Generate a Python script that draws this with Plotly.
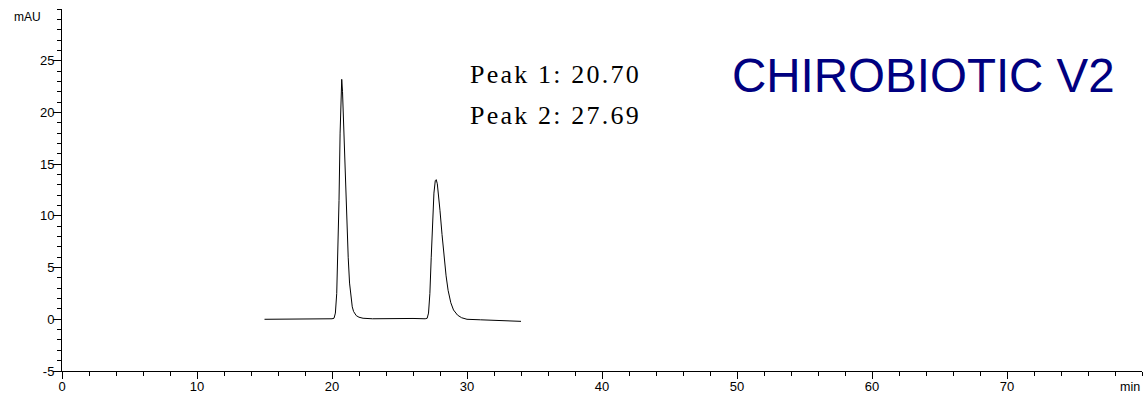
import plotly.graph_objects as go

# Chromatogram trace (time in min, signal in mAU)
time_min = [15.0, 16.0, 17.0, 18.0, 19.0, 20.0, 20.15, 20.25, 20.35, 20.45, 20.52, 20.6, 20.68, 20.72,
            20.78, 20.85, 20.9, 21.0, 21.05, 21.1, 21.2, 21.3, 21.4, 21.5, 21.6, 21.8, 22.0, 22.3,
            23.0, 24.0, 25.0, 26.0, 26.9, 27.05, 27.15, 27.25, 27.35, 27.45, 27.55, 27.65, 27.72,
            27.8, 27.9, 28.0, 28.15, 28.3, 28.45, 28.6, 28.8, 29.0, 29.3, 29.6, 30.0, 31.0, 32.0,
            33.0, 34.0]
signal_mau = [0.0, 0.0, 0.0, 0.02, 0.03, 0.05, 0.1, 0.6, 2.5, 7.0, 11.5, 18.0, 22.8, 23.2,
              22.0, 19.0, 16.5, 13.0, 11.5, 9.5, 6.0, 3.5, 2.0, 1.2, 0.75, 0.35, 0.2, 0.1,
              0.05, 0.08, 0.1, 0.08, 0.05, 0.1, 0.6, 2.5, 6.0, 9.5, 12.2, 13.4, 13.5,
              13.1, 12.0, 10.5, 8.2, 6.0, 4.2, 2.8, 1.6, 0.9, 0.4, 0.15, 0.0, -0.05, -0.1,
              -0.15, -0.2]

peak_labels = ["Peak 1: 20.70", "Peak 2: 27.69"]
column_name = "CHIROBIOTIC V2"
x_tickvals = [0, 10, 20, 30, 40, 50, 60, 70]
y_tickvals = [-5, 0, 5, 10, 15, 20, 25]
y_ticktext = ["-5", "0", "5", "10", "15", "20", "25"]

fig = go.Figure()
fig.add_trace(go.Scatter(x=time_min, y=signal_mau, mode="lines",
                         line=dict(color="black", width=1), showlegend=False,
                         hoverinfo="skip"))

fig.update_layout(
    width=1146, height=394,
    margin=dict(l=62, r=4, t=9, b=23, autoexpand=False),
    paper_bgcolor="white", plot_bgcolor="white",
    font=dict(family="Liberation Sans, Arial, sans-serif", size=12, color="black"),
    xaxis=dict(range=[0, 80], showline=True, linecolor="black", linewidth=1,
               showgrid=False, zeroline=False, tickvals=x_tickvals, automargin=False,
               ticks="outside", ticklen=7, tickcolor="black", tickwidth=1,
               tickfont=dict(size=13), ticklabelstandoff=-4,
               minor=dict(dtick=2, tick0=0, ticks="outside", ticklen=4,
                          tickcolor="black", showgrid=False)),
    yaxis=dict(range=[-5, 30], showline=True, linecolor="black", linewidth=1,
               showgrid=False, zeroline=False, tickvals=y_tickvals, ticktext=y_ticktext,
               automargin=False,
               ticks="outside", ticklen=8, tickcolor="black", tickwidth=1,
               tickfont=dict(size=13), ticklabelstandoff=-4,
               minor=dict(dtick=1, tick0=0, ticks="outside", ticklen=4,
                          tickcolor="black", showgrid=False)),
)

for i, lab in enumerate(peak_labels):
    fig.add_annotation(x=30.05, y=[23.7, 19.75][i], xref="x", yref="y",
                       text='<span style="letter-spacing:2.2px">' + lab + '</span>',
                       showarrow=False, xanchor="left", yanchor="middle",
                       font=dict(family="Liberation Serif, Times New Roman, serif",
                                 size=26, color="black"))

fig.add_annotation(x=63.8, y=23.6, xref="x", yref="y", text=column_name,
                   showarrow=False, xanchor="center", yanchor="middle",
                   font=dict(family="Liberation Sans, Arial, sans-serif", size=47.5,
                             color="#000080"))

fig.add_annotation(x=0, y=1, xref="paper", yref="paper", text="mAU",
                   showarrow=False, xanchor="right", yanchor="middle",
                   xshift=-19, yshift=-8, font=dict(size=12))
fig.add_annotation(x=1, y=0, xref="paper", yref="paper", text="min",
                   showarrow=False, xanchor="right", yanchor="top",
                   xshift=0, yshift=-7, font=dict(size=12.5))

fig.write_html("out.html", config={"displayModeBar": False},
               post_script="document.body.style.margin='0';document.body.style.overflow='hidden';")
